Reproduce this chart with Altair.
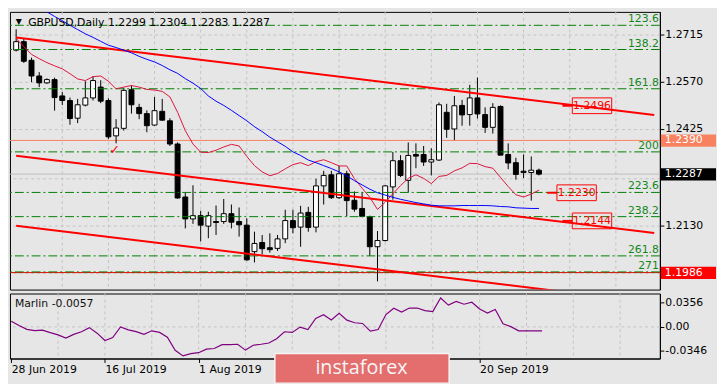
import altair as alt
import pandas as pd

# ---------------- data ----------------
opens = [1.2666,1.2692,1.2635,1.2587,1.2566,1.2576,1.2526,1.2512,1.2458,1.2498,
         1.2520,1.2553,1.2512,1.2404,1.2427,1.2545,1.2491,1.2472,1.2437,1.2479,
         1.2450,1.2379,1.2217,1.2150,1.2160,1.2128,1.2142,1.2142,1.2166,1.2142,
         1.2131,1.2050,1.2078,1.2062,1.2060,1.2089,1.2145,1.2125,1.2170,1.2125,
         1.2251,1.2285,1.2215,1.2288,1.2207,1.2182,1.2157,1.2065,1.2084,1.2248,
         1.2328,1.2268,1.2347,1.2347,1.2324,1.2330,1.2476,1.2425,1.2497,1.2469,
         1.2520,1.2469,1.2430,1.2494,1.2347,1.2322,1.2296,1.2292,1.2299]
highs = [1.2730,1.2702,1.2643,1.2599,1.2580,1.2582,1.2538,1.2521,1.2517,1.2571,
         1.2587,1.2574,1.2519,1.2455,1.2551,1.2558,1.2502,1.2482,1.2523,1.2517,
         1.2458,1.2384,1.2231,1.2253,1.2175,1.2172,1.2191,1.2211,1.2194,1.2185,
         1.2152,1.2111,1.2101,1.2106,1.2101,1.2178,1.2178,1.2190,1.2187,1.2273,
         1.2297,1.2297,1.2312,1.2297,1.2234,1.2231,1.2160,1.2113,1.2253,1.2355,
         1.2345,1.2384,1.2381,1.2373,1.2366,1.2506,1.2502,1.2526,1.2514,1.2560,
         1.2582,1.2491,1.2504,1.2497,1.2381,1.2337,1.2347,1.2341,1.2304]
lows = [1.2662,1.2627,1.2568,1.2553,1.2563,1.2481,1.2498,1.2438,1.2443,1.2494,
        1.2512,1.2504,1.2394,1.2381,1.2420,1.2472,1.2455,1.2415,1.2435,1.2450,
        1.2373,1.2212,1.2121,1.2135,1.2081,1.2091,1.2101,1.2135,1.2121,1.2096,
        1.2022,1.2017,1.2042,1.2047,1.2052,1.2076,1.2106,1.2065,1.2111,1.2109,
        1.2194,1.2211,1.2211,1.2158,1.2172,1.2155,1.2037,1.1959,1.2081,1.2209,
        1.2278,1.2232,1.2305,1.2312,1.2283,1.2327,1.2398,1.2391,1.2435,1.2435,
        1.2457,1.2413,1.2411,1.2345,1.2302,1.2270,1.2275,1.2206,1.2283]
closes = [1.2692,1.2632,1.2587,1.2566,1.2576,1.2521,1.2512,1.2457,1.2499,1.2520,
          1.2573,1.2510,1.2401,1.2428,1.2543,1.2499,1.2472,1.2435,1.2481,1.2452,
          1.2379,1.2214,1.2150,1.2160,1.2131,1.2160,1.2139,1.2166,1.2140,1.2132,
          1.2025,1.2075,1.2059,1.2056,1.2089,1.2145,1.2123,1.2168,1.2124,1.2251,
          1.2283,1.2215,1.2288,1.2206,1.2180,1.2158,1.2065,1.2084,1.2251,1.2328,
          1.2283,1.2344,1.2342,1.2324,1.2331,1.2499,1.2424,1.2496,1.2468,1.2520,
          1.2471,1.2430,1.2491,1.2345,1.2321,1.2286,1.2292,1.2299,1.2287]
ma_fast = [1.2702,1.2677,1.2653,1.2640,1.2628,1.2618,1.2609,1.2594,1.2578,1.2573,
           1.2585,1.2587,1.2571,1.2548,1.2553,1.2558,1.2553,1.2546,1.2544,1.2540,
           1.2523,1.2476,1.2420,1.2379,1.2354,1.2353,1.2360,1.2370,1.2378,1.2373,
           1.2341,1.2313,1.2294,1.2282,1.2289,1.2303,1.2316,1.2322,1.2313,1.2325,
           1.2331,1.2322,1.2312,1.2312,1.2273,1.2244,1.2216,1.2179,1.2201,1.2227,
           1.2252,1.2274,1.2285,1.2274,1.2258,1.2280,1.2283,1.2297,1.2306,1.2320,
           1.2319,1.2310,1.2305,1.2277,1.2249,1.2224,1.2217,1.2226,1.2238]
ma_slow = [None,None,None,1.2796,1.2783,1.2769,1.2756,1.2742,1.2729,1.2716,
           1.2705,1.2693,1.2681,1.2674,1.2666,1.2658,1.2647,1.2638,1.2630,1.2619,
           1.2606,1.2595,1.2579,1.2565,1.2549,1.2526,1.2510,1.2497,1.2482,1.2466,
           1.2450,1.2432,1.2417,1.2400,1.2386,1.2372,1.2355,1.2344,1.2330,1.2322,
           1.2313,1.2304,1.2294,1.2282,1.2267,1.2254,1.2241,1.2230,1.2223,1.2216,
           1.2210,1.2205,1.2200,1.2196,1.2192,1.2190,1.2190,1.2190,1.2191,1.2191,
           1.2191,1.2191,1.2190,1.2188,1.2187,1.2184,1.2183,1.2182,1.2182]
marlin = [0.0083,0.0021,-0.0035,-0.0054,-0.0047,-0.0083,-0.0115,-0.0160,-0.0107,-0.0070,
          -0.0010,-0.0090,-0.0195,-0.0153,0.0000,-0.0042,-0.0068,-0.0107,-0.0056,-0.0079,
          -0.0149,-0.0336,-0.0417,-0.0385,-0.0371,-0.0320,-0.0311,-0.0256,-0.0256,-0.0250,
          -0.0334,-0.0264,-0.0250,-0.0232,-0.0170,-0.0070,-0.0079,-0.0003,-0.0038,0.0122,
          0.0175,0.0101,0.0195,0.0097,0.0060,0.0050,-0.0061,-0.0038,0.0178,0.0268,
          0.0213,0.0271,0.0272,0.0235,0.0222,0.0417,0.0314,0.0368,0.0327,0.0356,
          0.0259,0.0199,0.0250,0.0046,0.0004,-0.0056,-0.0056,-0.0056,-0.0057]

price_ticks = [1.2715, 1.2570, 1.2425, 1.2275, 1.2130, 1.1985]
price_tick_labels = ["1.2715", "1.2570", "1.2425", "", "1.2130", ""]  # last two hidden by price boxes
marlin_ticks = [0.0356, 0.0, -0.0346]
marlin_tick_labels = ["0.0356", "0.00", "-0.0346"]
date_idx = [0, 12, 24, 36, 48, 60]
date_labels = ["28 Jun 2019", "16 Jul 2019", "1 Aug 2019", "", "", "20 Sep 2019"]  # 2 hidden by watermark
grid_idx = [6, 12, 18, 24, 30, 36, 42, 48, 54, 60, 66, 72, 78]

fib_labels = ["123.6", "138.2", "161.8", "200", "223.6", "238.2", "261.8", "271"]
fib_prices = [1.2742, 1.2668, 1.2548, 1.2355, 1.2231, 1.2157, 1.2037, 1.1988]

channel_names = ["upper", "upper", "middle", "middle", "lower", "lower"]
channel_idx = [0, 83, 0, 83, 0, 83]
channel_prices = [1.2705, 1.2468, 1.2343, 1.2107, 1.2129, 1.1894]

level_names = ["resistance", "bid", "support"]
level_prices = [1.2390, 1.2287, 1.1986]

tag_idx = [74.9, 72.9, 74.9]
tag_prices = [1.2496, 1.2230, 1.2144]

check_idx = [12.8]
check_prices = [1.2361]

header_text = "GBPUSD,Daily  1.2299 1.2304 1.2283 1.2287"
marlin_text = "Marlin -0.0057"
watermark_text = "instaforex"

# ---------------- layout / style ----------------
W, H1, H2 = 660, 282, 66
BG = "#e6e6e6"
GRID = "#c3c3c3"
FONT = "DejaVu Sans"
LINE_COLORS = {"resistance": "#f8825f", "bid": "#bdbdbd", "support": "#ff0000"}
BOX_COLORS = {"resistance": "#f8825f", "bid": "#000000", "support": "#ff0000"}

xs = alt.Scale(domain=[-0.1625, 83.09], nice=False, zero=False)
ys = alt.Scale(domain=[1.1934, 1.2783], nice=False, zero=False)
ms = alt.Scale(domain=[-0.0455, 0.0481], nice=False, zero=False)


def lookup_expr(values, labels):
    arr_v = "[" + ",".join(repr(v) for v in values) + "]"
    arr_l = "[" + ",".join(f"'{s}'" for s in labels) + "]"
    return f"{arr_l}[indexof({arr_v}, datum.value)]"


candles = pd.DataFrame({"i": list(range(len(opens))), "o": opens, "h": highs,
                        "l": lows, "c": closes})
up = candles[candles["c"] >= candles["o"]]
down = candles[candles["c"] < candles["o"]]
fast_df = pd.DataFrame({"i": list(range(len(ma_fast))), "v": ma_fast})
slow_df = pd.DataFrame({"i": list(range(len(ma_slow))), "v": ma_slow}).dropna()
marlin_df = pd.DataFrame({"i": list(range(len(marlin))), "m": marlin})
grid_df = pd.DataFrame({"g": grid_idx})
fib_df = pd.DataFrame({"p": fib_prices, "lab": fib_labels})
chan_df = pd.DataFrame({"line": channel_names, "i": channel_idx, "p": channel_prices})
lev_df = pd.DataFrame({"name": level_names, "p": level_prices,
                       "lab": [f"{p:.4f}" for p in level_prices]})
tag_df = pd.DataFrame({"i": tag_idx, "p": tag_prices, "lab": [f"{p:.4f}" for p in tag_prices]})
chk_df = pd.DataFrame({"i": check_idx, "p": check_prices, "t": ["\u2713"]})

y_axis_main = alt.Axis(orient="right", values=price_ticks,
                       labelExpr=lookup_expr(price_ticks, price_tick_labels), grid=True,
                       gridDash=[3, 3], gridColor=GRID, tickSize=4, labelPadding=1,
                       labelFlush=False, labelOverlap=False, title=None)


def X(field):
    return alt.X(field, scale=xs, axis=None)


def Y(field):
    return alt.Y(field, scale=ys, axis=y_axis_main)


vgrid = alt.Chart(grid_df).mark_rule(color=GRID, strokeDash=[3, 3], strokeWidth=1).encode(x=X("g:Q"))

level_layers = []
box_layers = []
for name in level_names:
    sub = lev_df[lev_df["name"] == name]
    level_layers.append(alt.Chart(sub).mark_rule(color=LINE_COLORS[name], strokeWidth=1).encode(y=Y("p:Q")))
    box_layers.append(alt.Chart(sub).mark_rect(fill=BOX_COLORS[name], yOffset=-6, y2Offset=6.5).encode(
        x=alt.value(W + 1), x2=alt.value(W + 57), y=Y("p:Q"), y2="p:Q"))
axis_box_text = alt.Chart(lev_df).mark_text(align="left", baseline="middle", color="white",
                                            font=FONT, fontSize=11).encode(
    x=alt.value(W + 5), y=Y("p:Q"), text="lab:N")

wicks = alt.Chart(candles).mark_rule(color="black", strokeWidth=1).encode(
    x=X("i:Q"), y=Y("l:Q"), y2="h:Q")
bodies_up = alt.Chart(up).mark_bar(size=5, fill="white", stroke="black", strokeWidth=1).encode(
    x=X("i:Q"), y=Y("o:Q"), y2="c:Q")
bodies_down = alt.Chart(down).mark_bar(size=5, fill="black", stroke="black", strokeWidth=1).encode(
    x=X("i:Q"), y=Y("o:Q"), y2="c:Q")

fibs = alt.Chart(fib_df).mark_rule(color="#008000", strokeDash=[9, 3, 2, 3], strokeWidth=1).encode(y=Y("p:Q"))
fib_text = alt.Chart(fib_df).mark_text(align="right", baseline="bottom", color="#12861a",
                                       font=FONT, fontSize=11, dy=-1).encode(
    x=alt.value(W - 1), y=Y("p:Q"), text="lab:N")

channels = alt.Chart(chan_df).mark_line(color="#ff0000", strokeWidth=2, clip=True).encode(
    x=X("i:Q"), y=Y("p:Q"), detail="line:N")

fast_line = alt.Chart(fast_df).mark_line(color="#dc143c", strokeWidth=1).encode(x=X("i:Q"), y=Y("v:Q"))
slow_line = alt.Chart(slow_df).mark_line(color="#0000ff", strokeWidth=1, clip=True).encode(x=X("i:Q"), y=Y("v:Q"))

tag_box = alt.Chart(tag_df).mark_rect(fill=BG, fillOpacity=0, stroke="#ff0000", strokeWidth=1,
                                      xOffset=-20, x2Offset=20, yOffset=-8, y2Offset=8).encode(
    x=X("i:Q"), x2="i:Q", y=Y("p:Q"), y2="p:Q")
tag_dash = alt.Chart(tag_df).mark_rule(color="#ff0000", strokeWidth=2, xOffset=-30, x2Offset=-20).encode(
    x=X("i:Q"), x2="i:Q", y=Y("p:Q"))
tag_text = alt.Chart(tag_df).mark_text(color="#ff0000", font=FONT, fontSize=11).encode(
    x=X("i:Q"), y=Y("p:Q"), text="lab:N")

check = alt.Chart(chk_df).mark_text(color="#ff0000", font=FONT, fontSize=13, fontWeight="bold").encode(
    x=X("i:Q"), y=Y("p:Q"), text="t:N")

hdr = pd.DataFrame({"t": [header_text], "tri": ["\u25BC"]})
header = alt.Chart(hdr).mark_text(align="left", baseline="middle", font=FONT, fontSize=11,
                                  color="black").encode(x=alt.value(18.5), y=alt.value(11), text="t:N")
header_tri = alt.Chart(hdr).mark_text(align="center", baseline="middle", font=FONT, fontSize=8,
                                      color="black").encode(x=alt.value(9), y=alt.value(10.5), text="tri:N")

main = alt.layer(vgrid, *level_layers, wicks, bodies_up, bodies_down, fibs, fib_text, channels,
                 fast_line, slow_line, tag_dash, tag_box, tag_text, check, *box_layers,
                 axis_box_text, header_tri, header).properties(width=W, height=H1)

# ---------------- indicator panel ----------------
x_axis_ind = alt.Axis(orient="bottom", values=date_idx, labelExpr=lookup_expr(date_idx, date_labels),
                      labelAlign="left", labelFlush=False, labelOverlap=False, tickSize=4,
                      labelPadding=1, grid=False, title=None)
y_axis_ind = alt.Axis(orient="right", values=marlin_ticks,
                      labelExpr=lookup_expr(marlin_ticks, marlin_tick_labels),
                      grid=False, tickSize=4, labelPadding=1, labelFlush=False,
                      labelOverlap=False, title=None)


def XI(field):
    return alt.X(field, scale=xs, axis=x_axis_ind)


def YI(field):
    return alt.Y(field, scale=ms, axis=y_axis_ind)


zero_df = pd.DataFrame({"z": [0.0]})
vgrid_i = alt.Chart(grid_df).mark_rule(color=GRID, strokeDash=[3, 3], strokeWidth=1).encode(x=XI("g:Q"))
zero_rule = alt.Chart(zero_df).mark_rule(color=GRID, strokeDash=[3, 3], strokeWidth=1).encode(y=YI("z:Q"))
marlin_line = alt.Chart(marlin_df).mark_line(color="#800080", strokeWidth=1.2).encode(
    x=XI("i:Q"), y=YI("m:Q"))
mtxt = pd.DataFrame({"t": [marlin_text], "w": [watermark_text]})
marlin_label = alt.Chart(mtxt).mark_text(align="left", baseline="middle", font=FONT, fontSize=11,
                                         color="#111111").encode(x=alt.value(5), y=alt.value(10.5), text="t:N")
wm_box = alt.Chart(mtxt).mark_rect(fill="#e46e6e", stroke="#f4f4f4", strokeWidth=1.5).encode(
    x=alt.value(269), x2=alt.value(446), y=alt.value(61), y2=alt.value(91))
wm_text = alt.Chart(mtxt).mark_text(align="center", baseline="middle", font="Open Sans", fontSize=20,
                                    color="#f6f6f6").encode(x=alt.value(357), y=alt.value(76), text="w:N")

ind = alt.layer(vgrid_i, zero_rule, marlin_line, marlin_label, wm_box, wm_text).properties(width=W, height=H2)

chart = alt.vconcat(main, ind, spacing=2).configure(
    background=BG, padding=0, font=FONT
).configure_view(stroke="black", strokeWidth=1).configure_axis(
    labelFont=FONT, labelFontSize=11, labelColor="black", tickColor="black",
    domainColor="black", domainWidth=1)

chart.save("out.html", embed_options={"renderer": "svg", "actions": False})
